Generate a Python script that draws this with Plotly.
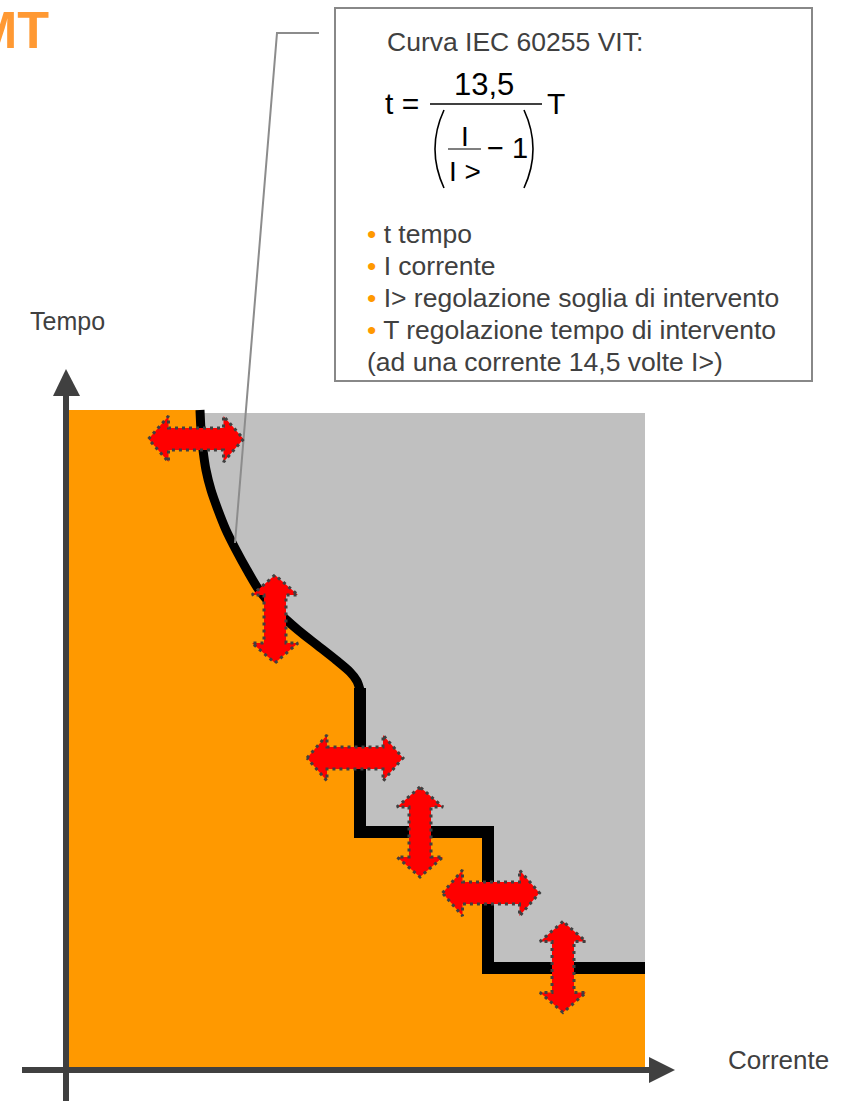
import plotly.graph_objects as go

# ---------------- data (diagram coordinates, px-like units) ----------------
# Inverse-time curve (current, time) – top part of the characteristic
curve_current = [200, 201, 203, 206, 211, 218, 226, 236, 247, 259, 276, 298, 317, 336, 350, 357, 360]
curve_time    = [410, 430, 450, 470, 490, 510, 530, 550, 570, 590, 610, 630, 645, 660, 672, 681, 690]
# Definite-time steps
step_current = [360, 360, 488, 488, 645]
step_time    = [688, 832, 832, 968, 968]
# Regions
region_current = [69, 645]
region_time = [410, 1068]
gray_top = 413
# Adjustment arrows (centre, orientation, length)
arrow_cx = [196, 275, 355, 420, 491, 563]
arrow_cy = [439, 619, 758, 832, 893, 967]
arrow_dir = ["h", "v", "h", "v", "h", "v"]
arrow_len = [95, 88, 96, 90, 97, 91]
# Leader line from the box to the curve
leader_x = [319, 277, 235]
leader_y = [33, 33, 543]

bullet_lines = ["t tempo", "I corrente", "I> regolazione soglia di intervento",
                "T regolazione tempo di intervento"]
bullet_y = [234, 266, 298, 330]

ORANGE = "#FF9900"
GRAY = "#C0C0C0"
DARK = "#404040"
FONT = "Liberation Sans, Arial, sans-serif"

fig = go.Figure()

# Orange area (below / left of the characteristic)
ox = [region_current[0], curve_current[0]] + curve_current[1:] + step_current + [region_current[1], region_current[1], region_current[0], region_current[0]]
oy = [region_time[0], region_time[0]] + curve_time[1:] + step_time + [step_time[-1], region_time[1], region_time[1], region_time[0]]
fig.add_trace(go.Scatter(x=ox, y=oy, fill="toself", fillcolor=ORANGE, line=dict(width=0),
                         mode="lines", hoverinfo="skip"))

# Gray area (above the characteristic)
gx = [curve_current[0], region_current[1], region_current[1]] + step_current[::-1] + curve_current[::-1]
gy = [gray_top, gray_top, step_time[-1]] + step_time[::-1] + curve_time[::-1]
fig.add_trace(go.Scatter(x=gx, y=gy, fill="toself", fillcolor=GRAY, line=dict(width=0),
                         mode="lines", hoverinfo="skip"))

# Characteristic
fig.add_trace(go.Scatter(x=curve_current, y=curve_time, mode="lines",
                         line=dict(color="black", width=9, shape="spline", smoothing=0.8),
                         hoverinfo="skip"))
fig.add_trace(go.Scatter(x=step_current, y=step_time, mode="lines",
                         line=dict(color="black", width=12), hoverinfo="skip"))

# Leader line
fig.add_trace(go.Scatter(x=leader_x, y=leader_y, mode="lines",
                         line=dict(color="#8C8C8C", width=2), hoverinfo="skip"))

# Double arrows
SH, HH, HL = 11, 23, 20
for cx, cy, d, L in zip(arrow_cx, arrow_cy, arrow_dir, arrow_len):
    h = L / 2
    u = [-h, -h + HL, -h + HL, h - HL, h - HL, h, h - HL, h - HL, -h + HL, -h + HL, -h]
    v = [0, -HH, -SH, -SH, -HH, 0, HH, SH, SH, HH, 0]
    if d == "h":
        xs = [cx + a for a in u]
        ys = [cy + b for b in v]
    else:
        xs = [cx + b for b in v]
        ys = [cy + a for a in u]
    fig.add_trace(go.Scatter(x=xs, y=ys, fill="toself", fillcolor="#FF0000", mode="lines",
                             line=dict(color=DARK, width=3, dash="3px,4px"), hoverinfo="skip"))

shapes = []
# Axes
shapes.append(dict(type="line", x0=66, x1=66, y0=394, y1=1101, line=dict(color=DARK, width=6)))
shapes.append(dict(type="path", path="M 53 396 L 66 369 L 80 396 Z", fillcolor=DARK, line=dict(width=0)))
shapes.append(dict(type="line", x0=22, x1=651, y0=1070, y1=1070, line=dict(color=DARK, width=6)))
shapes.append(dict(type="path", path="M 649 1057 L 675 1070 L 649 1083 Z", fillcolor=DARK, line=dict(width=0)))
# Formula box
shapes.append(dict(type="rect", x0=335, x1=812, y0=8, y1=381, fillcolor="white",
                   line=dict(color="#888888", width=2)))
# Formula lines
shapes.append(dict(type="line", x0=430, x1=542, y0=104, y1=104, line=dict(color="black", width=1.5)))
shapes.append(dict(type="line", x0=448, x1=481, y0=149, y1=149, line=dict(color="black", width=1.2)))
shapes.append(dict(type="path", path="M 444 110 Q 426 149 444 188", line=dict(color="black", width=1.6)))
shapes.append(dict(type="path", path="M 524 110 Q 542 149 524 188", line=dict(color="black", width=1.6)))
for s in shapes:
    s.setdefault("xref", "x")
    s.setdefault("yref", "y")
    s.setdefault("layer", "above")

anns = []
def txt(x, y, t, size, color=DARK, xa="left"):
    anns.append(dict(x=x, y=y, xref="x", yref="y", text=t, showarrow=False, xanchor=xa,
                     yanchor="middle", font=dict(family=FONT, size=size, color=color),
                     borderpad=0))

txt(50, 30, "<b>MT</b>", 52, color="#FF9933", xa="right")
txt(29, 321, "Tempo", 25)
txt(727, 1060, "Corrente", 26)
txt(386, 42, "Curva IEC 60255 VIT:", 26.5)
txt(384, 103, "t =", 30, color="black")
txt(484, 84, "13,5", 31, color="black", xa="center")
txt(546, 103, "T", 30, color="black")
txt(465, 136, "I", 28, color="black", xa="center")
txt(465, 171, "I >", 28, color="black", xa="center")
txt(486, 148, "\u2212 1", 29, color="black")
for t, y in zip(bullet_lines, bullet_y):
    txt(366, y, f'<span style="color:{ORANGE}">\u2022</span> {t}', 26.5)
txt(366, 362, "(ad una corrente 14,5 volte I>)", 26.5)

fig.update_layout(
    width=852, height=1101, autosize=False,
    margin=dict(l=0, r=0, t=0, b=0),
    paper_bgcolor="white", plot_bgcolor="white",
    showlegend=False,
    xaxis=dict(range=[0, 852], visible=False, fixedrange=True),
    yaxis=dict(range=[1101, 0], visible=False, fixedrange=True),
    shapes=shapes, annotations=anns,
)

fig.write_html("out.html", config={"displayModeBar": False},
               post_script="document.body.style.margin='0';")
